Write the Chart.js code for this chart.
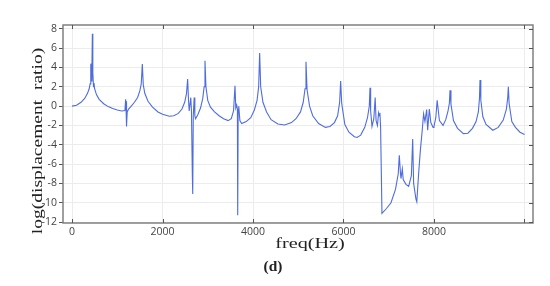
<!DOCTYPE html>
<html>
<head>
<meta charset="utf-8">
<script src="https://cdn.jsdelivr.net/npm/chart.js@4.4.1/dist/chart.umd.min.js"></script>
<style>
    html, body { margin: 0; padding: 0; background: #fff; }
    #wrap { width: 550px; height: 286px; }
</style>
</head>
<body>
<div id="wrap"><canvas id="chart1" width="550" height="286"></canvas></div>
<script>
// frequency (Hz) and log(displacement ratio)
const freqHz = [
    0, 100, 200, 280, 340, 380, 400, 415, 425, 440, 450, 460, 475, 486, 500, 540, 600, 700, 800, 900,
    1000, 1100, 1170, 1185, 1195, 1200, 1210, 1220, 1250, 1300, 1380, 1450, 1500, 1530, 1554, 1575, 1610, 1680, 1780, 1900,
    2000, 2150, 2250, 2350, 2430, 2490, 2530, 2556, 2575, 2590, 2625, 2640, 2660, 2668, 2680, 2700, 2715, 2730, 2780, 2840,
    2890, 2920, 2939, 2960, 3000, 3060, 3150, 3250, 3350, 3450, 3520, 3570, 3602, 3620, 3640, 3655, 3662, 3672, 3685, 3710,
    3750, 3850, 3950, 4030, 4090, 4125, 4147, 4170, 4220, 4300, 4400, 4550, 4700, 4850, 4950, 5050, 5110, 5150, 5171, 5195,
    5250, 5320, 5450, 5600, 5700, 5800, 5870, 5915, 5937, 5960, 6030, 6120, 6240, 6300, 6380, 6470, 6530, 6570, 6586, 6600,
    6630, 6670, 6700, 6720, 6750, 6775, 6790, 6805, 6820, 6850, 6950, 7050, 7150, 7210, 7233, 7260, 7270, 7300, 7320, 7380,
    7440, 7500, 7529, 7550, 7600, 7620, 7660, 7700, 7740, 7770, 7800, 7838, 7860, 7897, 7930, 7980, 8000, 8040, 8070, 8120,
    8200, 8260, 8310, 8340, 8354, 8375, 8430, 8520, 8650, 8750, 8850, 8930, 8980, 9005, 9017, 9035, 9080, 9150, 9300, 9420,
    9530, 9600, 9630, 9643, 9660, 9720, 9800, 9900, 10000
];
const logRatio = [
    0.0, 0.1, 0.4, 0.8, 1.3, 1.8, 2.3, 4.4, 2.6, 4.0, 7.5, 3.5, 2.0, 2.4, 1.8, 1.2, 0.7, 0.25, -0.05, -0.25,
    -0.4, -0.5, -0.45, 0.7, -0.3, 0.5, -2.1, -0.6, -0.3, -0.05, 0.4, 0.9, 1.6, 2.3, 4.35, 2.2, 1.3, 0.5, -0.1, -0.6,
    -0.85, -1.05, -1.0, -0.75, -0.3, 0.4, 1.3, 2.8, 0.6, -0.5, 0.9, -0.5, -7.3, -9.1, -1.0, 0.9, -1.0, -1.3, -0.9, -0.2,
    0.8, 2.0, 4.7, 2.0, 0.6, -0.1, -0.6, -1.0, -1.3, -1.5, -1.3, -0.5, 2.1, -0.2, 0.1, -0.3, -11.3, -0.5, 0.0, -1.5,
    -1.8, -1.6, -1.2, -0.4, 0.6, 2.0, 5.5, 2.0, 0.4, -0.6, -1.4, -1.85, -1.95, -1.7, -1.3, -0.6, 0.4, 1.8, 4.6, 1.7,
    0.0, -1.0, -1.8, -2.2, -2.1, -1.7, -1.0, 0.4, 2.6, 0.3, -1.9, -2.7, -3.17, -3.25, -3.0, -2.2, -1.2, 0.0, 1.9, -0.5,
    -2.1, -1.3, 0.9, -1.5, -2.0, -0.7, -1.0, -0.7, -2.2, -11.1, -10.6, -10.0, -8.6, -7.0, -5.1, -7.0, -7.5, -6.5, -7.6, -8.1,
    -8.3, -7.2, -3.4, -8.0, -9.6, -9.9, -7.0, -4.5, -2.5, -0.8, -1.6, -0.35, -2.5, -0.3, -1.7, -2.2, -2.1, -1.2, 0.6, -1.5,
    -2.0, -1.4, -0.5, 0.3, 1.65, 0.2, -1.5, -2.3, -2.85, -2.8, -2.3, -1.6, -0.6, 0.8, 2.7, 0.6, -1.1, -1.9, -2.5, -2.2,
    -1.45, -0.3, 0.9, 2.0, 0.3, -1.6, -2.2, -2.7, -2.93
];

const xTicks = [0, 2000, 4000, 6000, 8000, 10000];
const yTicks = [8, 6, 4, 2, 0, -2, -4, -6, -8, -10, -12];

const xTitle = 'freq(Hz)';
const yTitle = 'log(displacement  ratio)';
const panelTag = '(d)';

const points = freqHz.map((f, i) => ({ x: f, y: logRatio[i] }));

// frame, inward ticks and the serif titles (stretched like the source image)
const framePlugin = {
    id: 'frame',
    afterDraw(chart) {
        const ctx = chart.ctx;
        const a = chart.chartArea;
        const xs = chart.scales.x;
        const ys = chart.scales.y;
        ctx.save();
        ctx.strokeStyle = '#808080';
        ctx.lineWidth = 1.5;
        ctx.strokeRect(a.left, a.top, a.right - a.left, a.bottom - a.top);

        ctx.lineWidth = 1;
        ctx.strokeStyle = '#555';
        ctx.beginPath();
        xTicks.forEach(v => {
            const px = Math.round(xs.getPixelForValue(v)) + 0.5;
            ctx.moveTo(px, a.bottom);
            ctx.lineTo(px, a.bottom - 4);
            ctx.moveTo(px, a.top);
            ctx.lineTo(px, a.top + 4);
        });
        yTicks.forEach(v => {
            const py = Math.round(ys.getPixelForValue(v)) + 0.5;
            ctx.moveTo(a.right, py);
            ctx.lineTo(a.right - 4, py);
        });
        ctx.stroke();

        ctx.fillStyle = '#222';
        ctx.textAlign = 'center';
        ctx.textBaseline = 'middle';

        // y title
        ctx.save();
        ctx.translate(38, 141);
        ctx.rotate(-Math.PI / 2);
        ctx.scale(1.3, 1);
        ctx.font = '15px "Liberation Serif", "Times New Roman", serif';
        ctx.fillText(yTitle, 0, 0);
        ctx.restore();

        // x title
        ctx.save();
        ctx.translate(310, 244);
        ctx.scale(1.35, 1);
        ctx.font = '15px "Liberation Serif", "Times New Roman", serif';
        ctx.fillText(xTitle, 0, 0);
        ctx.restore();

        // panel tag
        ctx.save();
        ctx.translate(273, 267);
        ctx.scale(1.1, 1);
        ctx.font = 'bold 14px "Liberation Serif", "Times New Roman", serif';
        ctx.fillText(panelTag, 0, 0);
        ctx.restore();

        ctx.restore();
    }
};

const ctx = document.getElementById('chart1').getContext('2d');
new Chart(ctx, {
    type: 'line',
    data: {
        datasets: [{
            label: 'log(displacement ratio)',
            data: points,
            borderColor: 'rgba(78, 108, 222, 1)',
            backgroundColor: 'rgba(78, 108, 222, 1)',
            borderWidth: 1.1,
            pointRadius: 0,
            tension: 0,
            fill: false
        }]
    },
    options: {
        responsive: false,
        animation: false,
        layout: {
            padding: { top: 25, right: 17, left: 0, bottom: 0 }
        },
        plugins: {
            legend: { display: false },
            tooltip: { enabled: false }
        },
        scales: {
            x: {
                type: 'linear',
                min: -199,
                max: 10188,
                afterBuildTicks: scale => {
                    scale.ticks = xTicks.map(v => ({ value: v }));
                },
                ticks: {
                    padding: 3,
                    maxRotation: 0,
                    autoSkip: false,
                    color: '#444',
                    font: { family: '"Open Sans", sans-serif', size: 10.5 },
                    callback: v => (v === 10000 ? '' : v)
                },
                grid: {
                    color: '#ececec',
                    drawTicks: false
                },
                border: { display: false },
                afterFit: scale => { scale.height = 63; }
            },
            y: {
                min: -12.1,
                max: 8.4,
                afterBuildTicks: scale => {
                    scale.ticks = yTicks.map(v => ({ value: v }));
                },
                ticks: {
                    padding: 2,
                    color: '#444',
                    font: { family: '"Open Sans", sans-serif', size: 10.5 }
                },
                grid: {
                    color: '#ececec',
                    tickColor: '#555',
                    tickLength: 4
                },
                border: { display: false },
                afterFit: scale => { scale.width = 63; }
            }
        }
    },
    plugins: [framePlugin]
});
</script>
</body>
</html>
